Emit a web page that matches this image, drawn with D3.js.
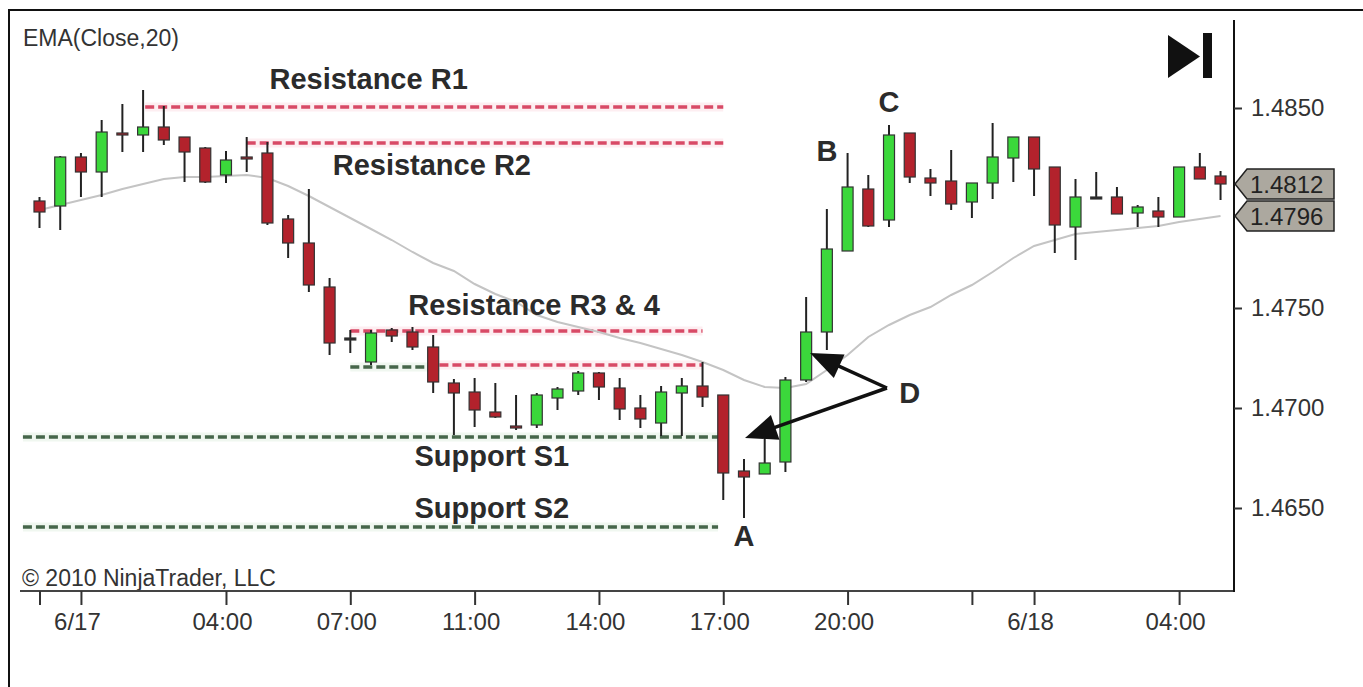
<!DOCTYPE html>
<html lang="en">
<head>
<meta charset="UTF-8">
<title>EUR/USD support and resistance</title>
<script src="https://d3js.org/d3.v7.min.js"></script>
<style>
  body { margin: 0; background: #fff; }
  text { font-family: "Liberation Sans", Arial, sans-serif; }
  .axis text { font-size: 24px; fill: #333; }
  .axis line { stroke: #333; stroke-width: 2; }
  .note { font-size: 29px; font-weight: bold; fill: #2b2b2b; }
</style>
</head>
<body>
<script>
// bar data (one entry per bar, left to right)
const opens  = [1.48035,1.4801,1.48255,1.4818,1.48375,1.48365,1.48405,1.48355,1.4830,1.48165,
                1.48255,1.48275,1.47945,1.47825,1.47605,1.4735,1.4723,1.4739,1.4738,1.47305,
                1.47125,1.4708,1.4698,1.4691,1.46915,1.4705,1.47085,1.47175,1.4710,1.4700,
                1.46925,1.47075,1.4711,1.47065,1.46685,1.4667,1.4673,1.4714,1.4738,1.47785,
                1.48095,1.4794,1.48375,1.4815,1.48135,1.4803,1.48125,1.4825,1.48355,1.48205,
                1.47905,1.48055,1.48055,1.47975,1.47985,1.47955,1.48205,1.4816];
const highs  = [1.48055,1.4826,1.48275,1.4844,1.4852,1.4859,1.4851,1.48355,1.48305,1.48285,
                1.48355,1.4833,1.47965,1.48095,1.4765,1.4739,1.4739,1.4740,1.47405,1.47365,
                1.47145,1.4715,1.47125,1.47065,1.47075,1.47105,1.47185,1.4718,1.4715,1.47065,
                1.4711,1.4715,1.4723,1.47065,1.46745,1.46865,1.47155,1.47555,1.47995,1.48275,
                1.48165,1.48415,1.48375,1.48195,1.4829,1.48125,1.48425,1.48355,1.48355,1.48205,
                1.48145,1.4818,1.48105,1.48015,1.48055,1.48205,1.48275,1.48185];
const lows   = [1.4790,1.4789,1.48055,1.48055,1.4828,1.4828,1.48315,1.4813,1.48125,1.48125,
                1.4818,1.47915,1.4775,1.4758,1.47265,1.47275,1.47215,1.4733,1.4729,1.47075,
                1.46865,1.46905,1.4695,1.4689,1.469,1.4699,1.47065,1.4704,1.4694,1.469,
                1.4686,1.4686,1.47005,1.4654,1.4645,1.4667,1.4668,1.4713,1.4729,1.47785,
                1.47905,1.47905,1.48125,1.4806,1.4799,1.4795,1.48045,1.4813,1.4806,1.47775,
                1.4774,1.48055,1.4797,1.47905,1.47905,1.47955,1.48145,1.4804];
const closes = [1.4798,1.48255,1.4818,1.4838,1.4837,1.48405,1.4834,1.4828,1.4813,1.4824,
                1.4825,1.47925,1.47825,1.47615,1.47325,1.4735,1.47375,1.4736,1.47305,1.4713,
                1.47075,1.4699,1.46955,1.4690,1.47065,1.47095,1.47175,1.47105,1.46995,1.46945,
                1.4708,1.4711,1.47055,1.46675,1.46655,1.46725,1.4714,1.4738,1.47795,1.48105,
                1.4791,1.48365,1.48155,1.48125,1.4802,1.48125,1.48255,1.48355,1.48195,1.47915,
                1.48055,1.48055,1.4797,1.48005,1.47955,1.48205,1.48145,1.4812];
// EMA(Close,20) as drawn
const ema    = [1.4799,1.48015,1.4804,1.48065,1.48095,1.4812,1.48145,1.48155,1.48155,1.4816,
                1.48165,1.4815,1.4811,1.4806,1.48005,1.4795,1.47895,1.4784,1.4778,1.47725,
                1.47685,1.4762,1.4757,1.4753,1.47465,1.4743,1.47405,1.4738,1.4735,1.47325,
                1.47295,1.47265,1.4723,1.4719,1.4714,1.47105,1.471,1.4712,1.4719,1.47265,
                1.47355,1.47415,1.47465,1.47505,1.47565,1.47615,1.4768,1.4775,1.4781,1.4784,
                1.4787,1.4788,1.4789,1.479,1.4791,1.4793,1.47945,1.4796];

// time axis
const tickBars   = [0, 2, 9, 15, 21, 27, 33, 39, 45, 48, 55];
const tickLabels = ["", "6/17", "04:00", "07:00", "11:00", "14:00", "17:00", "20:00", "", "6/18", "04:00"];
const priceTicks = [1.4650, 1.4700, 1.4750, 1.4850];

// support / resistance levels (price, first bar, last bar)
const levelKind  = ["res", "res", "res", "res", "sup", "sup", "sup"];
const levelPrice = [1.48505, 1.48325, 1.47385, 1.47215, 1.47205, 1.46855, 1.46405];
const levelFrom  = [5.1, 10, 15, 19.3, 15, -0.8, -0.8];
const levelTo    = [33, 33, 32, 32, 19.3, 32.9, 32.75];

// text notes
const noteText  = ["Resistance R1", "Resistance R2", "Resistance R3 & 4", "Support S1", "Support S2"];
const noteBar   = [11.1, 14.15, 17.8, 18.1, 18.1];
const notePrice = [1.48595, 1.48165, 1.47465, 1.4671, 1.4645];

const letterText  = ["A", "B", "C", "D"];
const letterBar   = [34, 38, 41, 42];
const letterPrice = [1.4631, 1.48235, 1.4848, 1.47025];

// the two arrows from D
const arrowFrom = [40.9, 1.4710];
const arrowTips = [[37.19, 1.47275], [34.05, 1.4685]];

const svgWidth = 1363, svgHeight = 687;
const plot = { left: 20, right: 1234, top: 20, bottom: 591 };

const svg = d3.select("body").append("svg")
    .attr("width", svgWidth)
    .attr("height", svgHeight);

const x = d3.scaleLinear().domain([0, 57]).range([39.5, 39.5 + 57 * 20.72]);
const y = d3.scaleLinear().domain([1.465, 1.485]).range([508, 108]);

// outer frame
svg.append("line").attr("x1", 8).attr("x2", svgWidth).attr("y1", 10).attr("y2", 10)
    .attr("stroke", "#111").attr("stroke-width", 2);
svg.append("line").attr("x1", 9).attr("x2", 9).attr("y1", 10).attr("y2", svgHeight)
    .attr("stroke", "#111").attr("stroke-width", 2);

svg.append("defs").append("clipPath").attr("id", "plotclip")
  .append("rect").attr("x", plot.left).attr("y", plot.top)
    .attr("width", plot.right - plot.left).attr("height", plot.bottom - plot.top);

const g = svg.append("g").attr("clip-path", "url(#plotclip)");

// level lines: soft halo then dashes
const levels = levelPrice.map((p, i) => ({ p, kind: levelKind[i], from: levelFrom[i], to: levelTo[i] }));
g.selectAll(".halo").data(levels).enter().append("line")
    .attr("x1", d => x(d.from)).attr("x2", d => x(d.to))
    .attr("y1", d => y(d.p)).attr("y2", d => y(d.p))
    .attr("stroke", d => d.kind === "res" ? "#fdeef1" : "#f0f7f0")
    .attr("stroke-width", 9);
g.selectAll(".level").data(levels).enter().append("line")
    .attr("x1", d => x(d.from)).attr("x2", d => x(d.to))
    .attr("y1", d => y(d.p)).attr("y2", d => y(d.p))
    .attr("stroke", d => d.kind === "res" ? "#d84a66" : "#46664a")
    .attr("stroke-width", 3.5)
    .attr("stroke-dasharray", "9,4");

// EMA line
g.append("path")
    .datum(ema)
    .attr("fill", "none")
    .attr("stroke", "#c4c4c4")
    .attr("stroke-width", 2)
    .attr("d", d3.line().x((d, i) => x(i)).y(d => y(d)));

// candles
const bars = opens.map((o, i) => ({ i, o, h: highs[i], l: lows[i], c: closes[i] }));
const bodyW = 11;

g.selectAll(".wick").data(bars).enter().append("line")
    .attr("x1", d => x(d.i)).attr("x2", d => x(d.i))
    .attr("y1", d => y(d.h)).attr("y2", d => y(d.l))
    .attr("stroke", "#222").attr("stroke-width", 2);

g.selectAll(".body").data(bars).enter().append("rect")
    .attr("x", d => x(d.i) - bodyW / 2)
    .attr("width", bodyW)
    .attr("y", d => y(Math.max(d.o, d.c)))
    .attr("height", d => Math.max(2, Math.abs(y(d.o) - y(d.c))))
    .attr("fill", d => d.c > d.o ? "#3bd83b" : d.c < d.o ? "#b3222c" : "#222")
    .attr("stroke", "#333")
    .attr("stroke-width", 1.2);

// notes
svg.selectAll(".note").data(noteText).enter().append("text")
    .attr("class", "note")
    .attr("x", (d, i) => x(noteBar[i]))
    .attr("y", (d, i) => y(notePrice[i]))
    .text(d => d);

svg.selectAll(".letter").data(letterText).enter().append("text")
    .attr("class", "note")
    .attr("text-anchor", "middle")
    .attr("x", (d, i) => x(letterBar[i]))
    .attr("y", (d, i) => y(letterPrice[i]))
    .text(d => d);

// arrows from D
const jx = x(arrowFrom[0]), jy = y(arrowFrom[1]);
arrowTips.forEach(t => {
    const tx = x(t[0]), ty = y(t[1]);
    const dx = tx - jx, dy = ty - jy, len = Math.sqrt(dx * dx + dy * dy);
    const ux = dx / len, uy = dy / len;
    const bx = tx - ux * 32, by = ty - uy * 32;
    svg.append("line").attr("x1", jx).attr("y1", jy).attr("x2", bx + ux * 4).attr("y2", by + uy * 4)
        .attr("stroke", "#111").attr("stroke-width", 3.5);
    svg.append("path")
        .attr("d", `M${tx},${ty}L${bx - uy * 13},${by + ux * 13}L${bx + uy * 13},${by - ux * 13}Z`)
        .attr("fill", "#111");
});

// indicator name and copyright
svg.append("text").attr("x", 23).attr("y", 46)
    .style("font-size", "23px").attr("fill", "#333").text("EMA(Close,20)");
svg.append("text").attr("x", 22).attr("y", 586)
    .style("font-size", "23px").attr("fill", "#333").text("\u00A9 2010 NinjaTrader, LLC");

// go-to-end button
svg.append("path").attr("d", "M1168,35L1168,78L1200,56.5Z").attr("fill", "#111");
svg.append("rect").attr("x", 1203).attr("y", 33).attr("width", 9).attr("height", 45).attr("fill", "#111");

// axes
svg.append("line").attr("x1", plot.left).attr("x2", plot.right)
    .attr("y1", plot.bottom).attr("y2", plot.bottom)
    .attr("stroke", "#444").attr("stroke-width", 2);
svg.append("line").attr("x1", plot.right).attr("x2", plot.right)
    .attr("y1", plot.top).attr("y2", plot.bottom + 1)
    .attr("stroke", "#111").attr("stroke-width", 2);

const xAxis = svg.append("g").attr("class", "axis")
    .attr("transform", `translate(0,${plot.bottom})`)
    .call(d3.axisBottom(x).tickValues(tickBars)
        .tickFormat((d, i) => tickLabels[i]).tickSize(14).tickPadding(8));
xAxis.select(".domain").remove();
xAxis.selectAll("text").attr("dx", -4);

const yAxis = svg.append("g").attr("class", "axis")
    .attr("transform", `translate(${plot.right},0)`)
    .call(d3.axisRight(y).tickValues(priceTicks)
        .tickFormat(d3.format(".4f")).tickSize(8).tickPadding(9));
yAxis.select(".domain").remove();

// price tags for last close and last EMA
const tags = [closes[closes.length - 1], ema[ema.length - 1]];
const tag = svg.selectAll(".tag").data(tags).enter().append("g")
    .attr("transform", d => `translate(${plot.right + 1},${y(d)})`);
tag.append("path")
    .attr("d", "M0,0L12,-15L99,-15L99,15L12,15Z")
    .attr("fill", "#aca89f")
    .attr("stroke", "#222")
    .attr("stroke-width", 1.5);
tag.append("text")
    .attr("x", 15).attr("y", 8.5)
    .style("font-size", "24px").attr("fill", "#222")
    .text(d => d3.format(".4f")(d));
</script>
</body>
</html>
